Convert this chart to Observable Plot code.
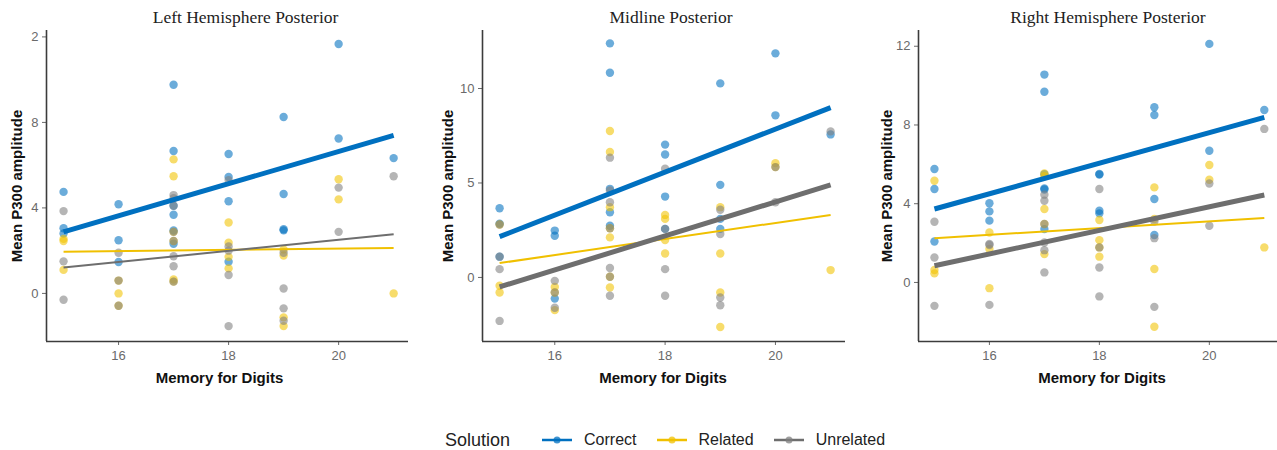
<!DOCTYPE html>
<html>
<head>
<meta charset="utf-8">
<script src="https://cdn.jsdelivr.net/npm/d3@7"></script>
<script src="https://cdn.jsdelivr.net/npm/@observablehq/plot@0.6"></script>
<style>
  body { margin: 0; background: #fff; }
  #wrap { position: relative; width: 1277px; height: 450px; overflow: hidden; background: #fff; }
  .panel { position: absolute; top: 0; }
  #legend { position: absolute; top: 427px; left: 445px; height: 26px; display: flex; align-items: center;
            font-family: "Liberation Sans", Arial, sans-serif; color: #222; }
  #legend .ttl { font-size: 18px; margin-right: 32px; }
  #legend .item { display: flex; align-items: center; font-size: 16px; margin-right: 20px; }
  #legend svg { margin-right: 12px; }
</style>
</head>
<body>
<div id="wrap"></div>
<script>
// ---------- data ----------
const series = ["Correct", "Related", "Unrelated"];
const pointColors = ["#0070C0", "#F2C200", "#7F7F7F"];
const lineColors = ["#0070C0", "#F0C000", "#6E6E6E"];
const memoryTicks = [16, 18, 20];
const fitX = [15, 21];
const panelTitles = ["Left Hemisphere Posterior", "Midline Posterior", "Right Hemisphere Posterior"];
const xLabel = "Memory for Digits";
const yLabel = "Mean P300 amplitude";

const leftTicks = [0, 4, 8, 12];
const leftTickLabels = ["0", "4", "8", "2"];
const midTicks = [0, 5, 10];
const midTickLabels = ["0", "5", "10"];
const rightTicks = [0, 4, 8, 12];
const rightTickLabels = ["0", "4", "8", "12"];

// Left Hemisphere Posterior
const leftCorrect = [[15,4.75],[15,3.05],[15,2.8],[16,4.17],[16,2.49],[16,1.47],[17,9.76],[17,6.66],[17,4.1],[17,3.68],[17,2.94],[17,2.32],[18,6.52],[18,5.45],[18,4.31],[18,1.48],[19,8.25],[19,4.65],[19,3.0],[19,2.95],[20,11.67],[20,7.25],[21,6.33]];
const leftRelated = [[15,2.55],[15,2.45],[15,1.1],[16,0.6],[16,0],[16,-0.58],[17,6.27],[17,5.48],[17,2.88],[17,2.45],[17,0.65],[17,0.55],[18,3.32],[18,2.37],[18,1.71],[18,1.17],[19,2.05],[19,1.77],[19,-1.12],[19,-1.53],[20,5.34],[20,4.4],[21,0]];
const leftUnrelated = [[15,3.85],[15,1.5],[15,-0.3],[16,1.9],[16,0.6],[16,-0.58],[17,4.6],[17,4.45],[17,4.1],[17,2.88],[17,2.45],[17,1.74],[17,1.27],[17,0.55],[18,5.3],[18,2.2],[18,2.0],[18,0.86],[18,-1.53],[19,1.9],[19,0.23],[19,-0.7],[19,-1.28],[20,4.95],[20,2.88],[21,5.48]];
const leftFits = [[2.88, 7.39], [1.95, 2.13], [1.21, 2.77]];
const leftLineWidths = [5, 2, 2];

// Midline Posterior
const midCorrect = [[15,3.66],[15,2.85],[15,1.1],[16,2.48],[16,2.21],[16,-1.12],[17,12.39],[17,10.83],[17,4.69],[17,3.45],[17,2.74],[18,7.03],[18,6.51],[18,4.28],[18,2.57],[19,10.27],[19,4.9],[19,3.1],[19,2.57],[20,11.86],[20,8.58],[21,7.57]];
const midRelated = [[15,2.8],[15,-0.44],[15,-0.8],[16,-0.5],[16,-0.8],[16,-1.73],[17,7.75],[17,6.64],[17,3.72],[17,2.6],[17,2.12],[17,0.04],[17,-0.53],[18,3.31],[18,3.1],[18,1.98],[18,1.27],[19,3.72],[19,1.27],[19,-0.8],[19,-2.62],[20,6.05],[20,5.84],[21,0.39]];
const midUnrelated = [[15,2.8],[15,1.1],[15,0.44],[15,-2.3],[16,-0.18],[16,-0.8],[16,-1.6],[17,6.34],[17,4.6],[17,3.98],[17,2.6],[17,0.5],[17,0.04],[17,-0.97],[18,5.75],[18,2.57],[18,0.44],[18,-0.97],[19,3.58],[19,2.3],[19,-1.06],[19,-1.47],[20,5.84],[20,3.98],[21,7.73]];
const midFits = [[2.16, 8.99], [0.76, 3.31], [-0.5, 4.9]];
const midLineWidths = [5, 2, 5];

// Right Hemisphere Posterior
const rightCorrect = [[15,5.76],[15,4.75],[15,2.08],[16,4.02],[16,3.61],[16,3.14],[17,10.56],[17,9.69],[17,5.5],[17,4.78],[17,4.72],[17,2.71],[18,5.51],[18,5.48],[18,3.64],[18,3.51],[19,8.9],[19,8.51],[19,4.24],[19,2.41],[20,12.12],[20,6.69],[21,8.76]];
const rightRelated = [[15,5.17],[15,0.63],[15,0.46],[16,2.54],[16,1.7],[16,-0.29],[17,5.54],[17,5.4],[17,3.73],[17,2.97],[17,1.44],[18,3.17],[18,2.15],[18,1.78],[18,1.31],[19,4.83],[19,3.22],[19,0.68],[19,-2.25],[20,5.97],[20,5.22],[21,1.78]];
const rightUnrelated = [[15,3.08],[15,1.27],[15,-1.19],[16,1.95],[16,1.9],[16,-1.14],[17,4.46],[17,4.15],[17,2.97],[17,2.03],[17,1.64],[17,0.51],[18,4.75],[18,1.78],[18,0.76],[18,-0.71],[19,3.1],[19,2.25],[19,-1.24],[20,5.03],[20,2.88],[21,7.8]];
const rightFits = [[3.73, 8.39], [2.25, 3.27], [0.85, 4.44]];
const rightLineWidths = [5, 2, 5];

// ---------- drawing ----------
function panel(o) {
  const pts = [];
  series.forEach((s, i) => o.points[i].forEach(([x, y]) => pts.push({x, y, s})));
  const lines = series.map((s, i) => Plot.line(
    fitX.map((x, j) => ({x, y: o.fits[i][j]})),
    {x: "x", y: "y", stroke: lineColors[i], strokeWidth: o.widths[i], strokeLinecap: "butt"}
  ));
  return Plot.plot({
    width: o.width, height: 400,
    marginLeft: o.ml, marginRight: o.mr, marginTop: 30, marginBottom: 59,
    style: {fontFamily: "'Liberation Sans', Arial, sans-serif", fontSize: "13px", color: "#6a6a6a", background: "white"},
    x: {domain: o.xDomain, ticks: memoryTicks, tickFormat: d => String(d), tickSize: 4, tickPadding: 5, label: null},
    y: {domain: o.yDomain, ticks: o.yTicks, tickFormat: d => o.yLabels[o.yTicks.indexOf(d)], tickSize: 4, tickPadding: 4, label: null},
    color: {domain: series, range: pointColors},
    marks: [
      Plot.dot(pts, {x: "x", y: "y", fill: "s", r: 4.2, fillOpacity: 0.58}),
      ...lines,
      Plot.ruleX([o.xDomain[0]], {stroke: "#3c3c3c", strokeWidth: 1.6}),
      Plot.ruleY([o.yDomain[0]], {stroke: "#3c3c3c", strokeWidth: 1.6}),
      Plot.text([o.title], {frameAnchor: "top", dy: -13, dx: o.titleDx, lineAnchor: "middle",
        fontFamily: "'Liberation Serif', 'Times New Roman', serif", fontSize: 17.5, fill: "#222"}),
      Plot.text([xLabel], {frameAnchor: "bottom", dy: 37, dx: o.xlabDx, lineAnchor: "middle",
        fontWeight: "bold", fontSize: 15, fill: "#111"}),
      Plot.text([yLabel], {frameAnchor: "left", dx: o.ylabDx, rotate: -90, lineAnchor: "middle", textAnchor: "middle",
        fontWeight: "bold", fontSize: 15, fill: "#111"})
    ]
  });
}

const wrap = document.getElementById("wrap");
const configs = [
  {left: 0, width: 430, ml: 46, mr: 22, xDomain: [14.69, 21.27], yDomain: [-2.25, 12.3], yTicks: leftTicks, yLabels: leftTickLabels,
   points: [leftCorrect, leftRelated, leftUnrelated], fits: leftFits, widths: leftLineWidths, title: panelTitles[0], titleDx: 18, xlabDx: -8, ylabDx: -29},
  {left: 430, width: 430, ml: 52, mr: 15, xDomain: [14.69, 21.27], yDomain: [-3.39, 13.07], yTicks: midTicks, yLabels: midTickLabels,
   points: [midCorrect, midRelated, midUnrelated], fits: midFits, widths: midLineWidths, title: panelTitles[1], titleDx: 7, xlabDx: -1, ylabDx: -34},
  {left: 860, width: 417, ml: 58, mr: 0, xDomain: [14.71, 21.24], yDomain: [-3.0, 12.8], yTicks: rightTicks, yLabels: rightTickLabels,
   points: [rightCorrect, rightRelated, rightUnrelated], fits: rightFits, widths: rightLineWidths, title: panelTitles[2], titleDx: 10, xlabDx: 4, ylabDx: -31}
];
configs.forEach(c => {
  const d = document.createElement("div");
  d.className = "panel";
  d.style.left = c.left + "px";
  d.appendChild(panel(c));
  wrap.appendChild(d);
});

// legend
const legend = document.createElement("div");
legend.id = "legend";
legend.innerHTML = `<span class="ttl">Solution</span>` + series.map((s, i) =>
  `<span class="item"><svg width="30" height="12"><line x1="0" x2="30" y1="6" y2="6" stroke="${lineColors[i]}" stroke-width="2.5"/>` +
  `<circle cx="15" cy="6" r="3.5" fill="${pointColors[i]}" fill-opacity="0.75"/></svg>${s}</span>`).join("");
wrap.appendChild(legend);
</script>
</body>
</html>
